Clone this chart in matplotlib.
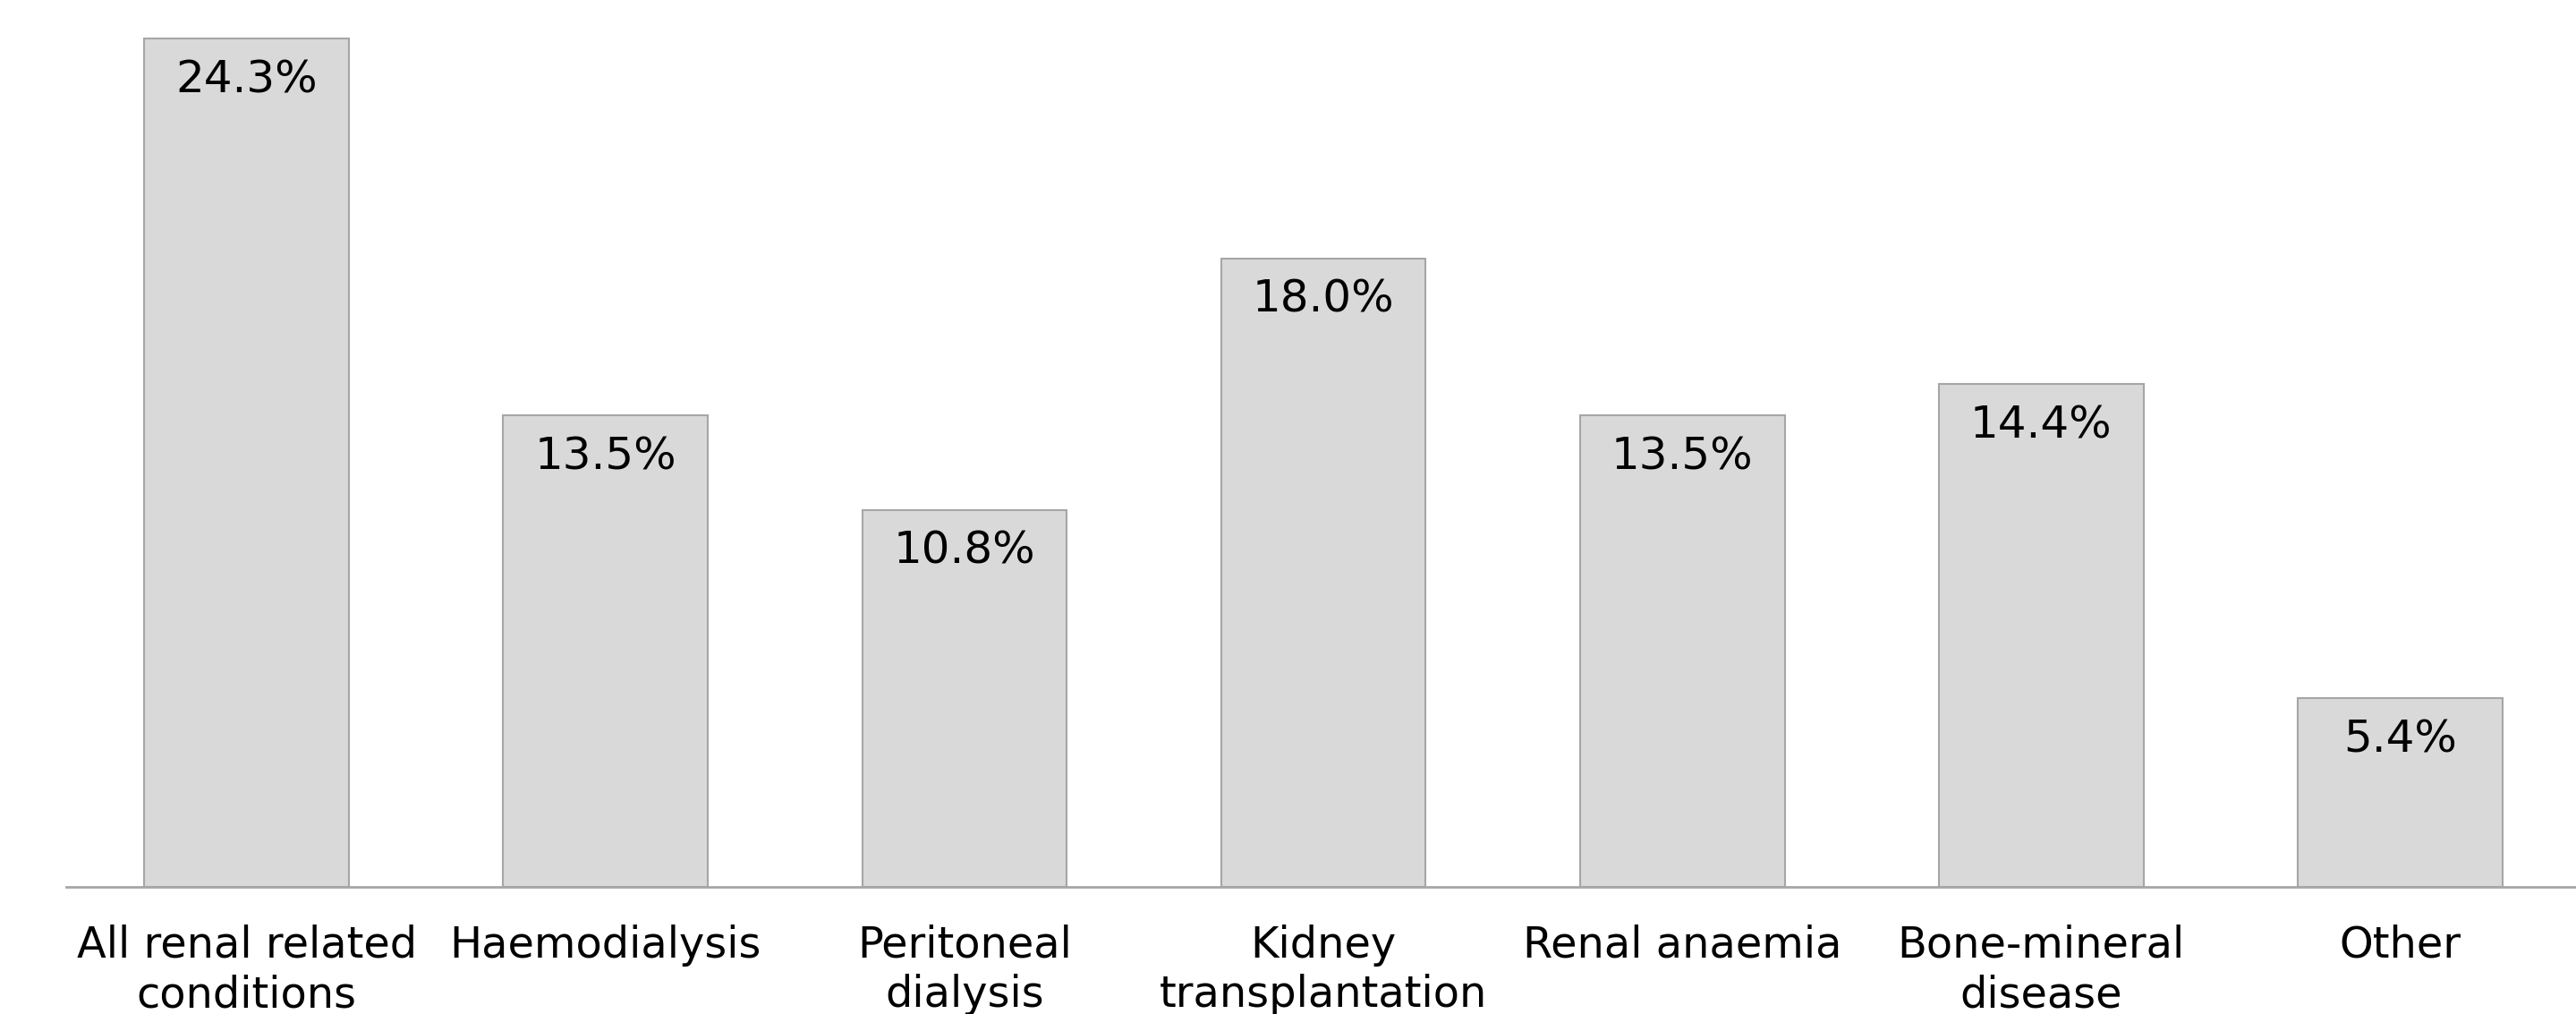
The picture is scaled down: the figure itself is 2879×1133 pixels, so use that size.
import numpy as np
import matplotlib
matplotlib.use("Agg")
import matplotlib.pyplot as plt

categories = ["All renal related\nconditions", "Haemodialysis", "Peritoneal\ndialysis",
              "Kidney\ntransplantation", "Renal anaemia", "Bone-mineral\ndisease", "Other"]
values = [24.3, 13.5, 10.8, 18.0, 13.5, 14.4, 5.4]

plt.rcParams['font.family'] = ['DejaVu Sans']

fig = plt.figure(figsize=(28.79, 11.33), dpi=100)
ax = fig.add_axes([0.02553, 0.1253, 0.97447, 0.8747])

x = np.arange(len(values))
ax.bar(x, values, width=0.57, color='#d9d9d9', edgecolor='#a6a6a6', linewidth=1.5, zorder=2)

for xi, v in zip(x, values):
    ax.annotate(f"{v:.1f}%", (xi, v), xytext=(0, -16), textcoords='offset points',
                ha='center', va='top', fontsize=36, color='black')

ax.set_xlim(-0.504, 6.49)
ax.set_ylim(0, 25.4)
ax.set_xticks(x)
ax.set_xticklabels(categories, fontsize=34.5, linespacing=1.23)
ax.tick_params(axis='x', length=0, pad=30)
ax.set_yticks([])
for s in ['top', 'right', 'left']:
    ax.spines[s].set_visible(False)
ax.spines['bottom'].set_color('#a6a6a6')
ax.spines['bottom'].set_linewidth(2)

fig.savefig("out.png", dpi=100)
